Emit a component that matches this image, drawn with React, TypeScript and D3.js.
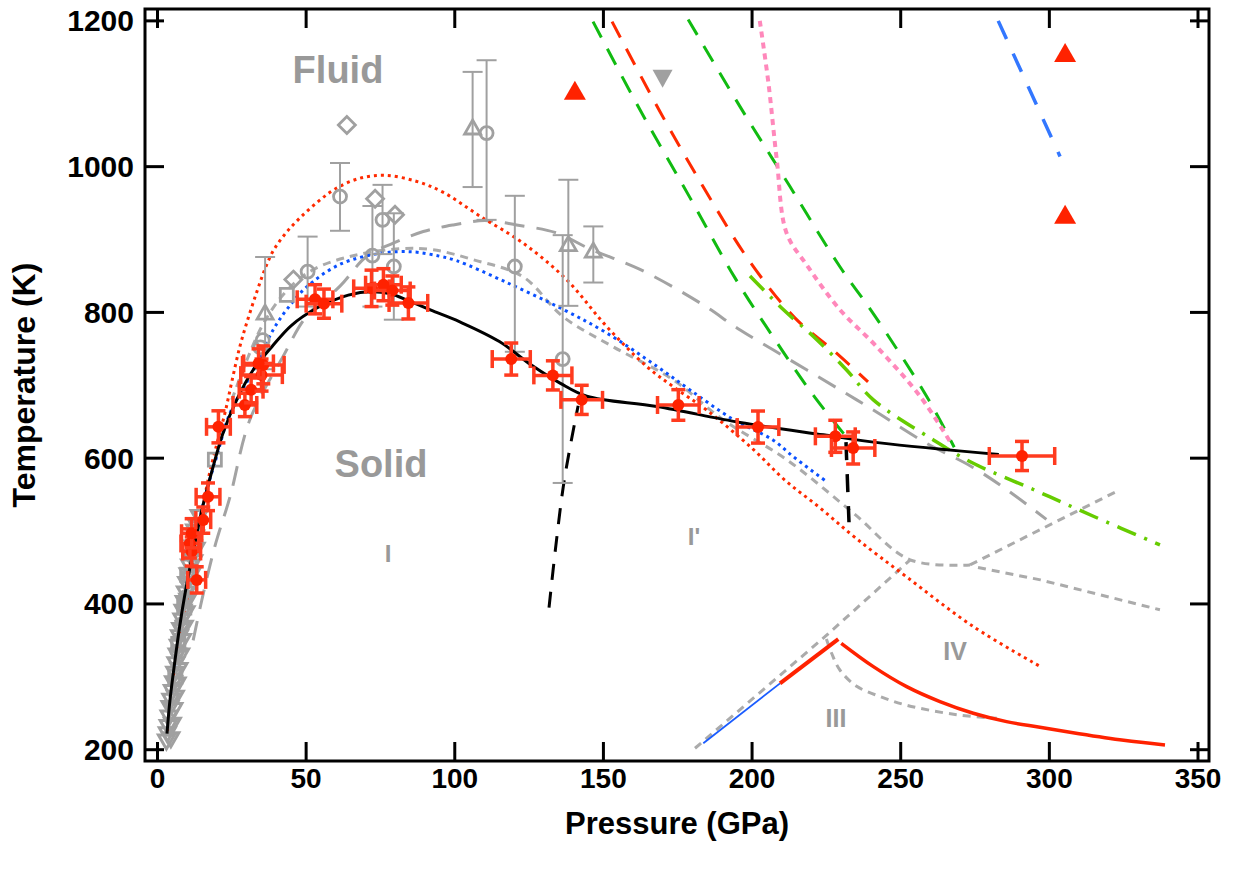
import React from 'react';
import * as d3 from 'd3';

type Pt = [number, number];

const W = 1236;
const H = 876;

const xTicks = [0, 50, 100, 150, 200, 250, 300, 350];
const yTicks = [200, 400, 600, 800, 1000, 1200];

// Black solid melting curve
const meltBlack: Pt[] = [
  [3.2, 222], [4.2, 268], [5.9, 323], [7.5, 370], [9.3, 415], [12, 472], [15, 530], [18.7, 588],
  [22, 634], [27, 683], [32, 720], [38.5, 753], [45, 782], [53.6, 806], [62, 821], [70, 828],
  [78, 826], [85, 815], [92, 803], [101.7, 787], [115, 760], [126, 727], [135.4, 703], [144.4, 685],
  [168, 671], [196, 649], [224, 632], [243, 621], [283, 605],
];

const redDotted: Pt[] = [
  [3.6, 225], [4.2, 268], [5.2, 296], [7, 340], [9.3, 388], [11, 430], [13.2, 479], [15, 525],
  [17, 570], [20, 620], [22.7, 662], [25, 705], [27.7, 753], [30.5, 792], [33.4, 828], [36, 858],
  [39, 885], [43, 908], [48, 930], [54, 952], [60, 970], [68, 984], [76.5, 988], [87, 980], [96, 965],
  [108.5, 932], [123, 895], [137.6, 845], [151, 781], [164.5, 726], [173.5, 698], [184.7, 666],
  [200.4, 612], [211, 570], [222.8, 532], [235, 490], [252, 437], [274.4, 369], [297, 314],
];

const blueDotted: Pt[] = [
  [3.2, 220], [5, 290], [7, 350], [9.8, 425], [13, 495], [16.5, 555], [19.9, 602], [24.4, 662],
  [31.1, 712], [38.9, 776], [43.5, 804], [50.2, 835], [61.4, 866], [74.8, 881], [86, 883], [95, 877],
  [100.6, 871], [117.5, 841], [136.5, 804], [151, 772], [168, 726], [179, 694], [193.7, 653],
  [207, 625], [213.9, 602], [225, 568],
];

const grayShortMain: Pt[] = [
  [25, 680], [35, 780], [43.5, 830], [52.3, 858.6], [65.8, 877.8], [81.6, 887.4], [92.7, 886],
  [106.1, 872.4], [122.9, 849], [136.4, 794.2], [153.2, 753], [173.4, 707.7], [190.2, 652.8],
  [211.7, 597.8], [234, 525], [253.2, 460.5], [273.3, 453.5],
];
const grayShortUp: Pt[] = [[273.3, 453.5], [296.8, 501.7], [323.4, 556]];
const grayShortDown: Pt[] = [[276, 450], [297, 433], [337.2, 392]];
const grayShortRise: Pt[] = [[180.8, 202], [224.5, 355], [253.2, 460.5]];
const grayShortDrop: Pt[] = [
  [225, 352], [226.8, 332], [229.6, 309], [235.2, 287], [243, 273], [252, 261], [268.8, 248], [282.3, 243],
];

const grayLong: Pt[] = [
  [12, 350], [14.9, 405], [19.3, 479], [24.4, 547], [31.1, 653], [42.3, 740], [50.2, 795], [61.4, 836],
  [70.4, 877], [79.3, 895], [89.4, 911], [99.5, 920], [110, 926], [120.8, 920], [134.3, 909],
  [145.5, 887], [162.3, 859], [182.5, 813], [196, 776], [212.7, 735], [229.5, 694], [240.8, 666],
  [258, 622], [274, 588], [285.6, 557], [299, 516],
];

const greenLeft: Pt[] = [
  [146.5, 1199], [162.3, 1078], [179.1, 957.5], [194.2, 847.7], [207.7, 762.6], [221.2, 683], [233.9, 618.4],
];
const greenRight: Pt[] = [
  [178.5, 1202], [196, 1082], [212.7, 973], [229.5, 863], [241, 797], [258.7, 685], [268, 615],
];
const redDashed: Pt[] = [
  [152.9, 1199], [169, 1075.7], [184.2, 968], [199.3, 869.4], [214.4, 792.5], [227.9, 745.9], [239, 704.7],
];
const pinkDotted: Pt[] = [
  [202.6, 1200], [205.5, 1115], [208.3, 1010], [211.6, 909], [218.4, 865], [229.5, 804],
  [241.9, 753], [256.5, 685], [267, 620],
];
const blueDashed: Pt[] = [[282.8, 1200], [303.6, 1014]];
const greenDashDot: Pt[] = [
  [199.3, 850], [210.5, 804], [221.7, 763], [231.8, 721], [240.8, 680], [261, 625], [274.4, 593],
  [294.6, 557], [315, 520], [337.2, 481],
];
const blackDashedA: Pt[] = [[131.7, 395], [134, 480], [136.5, 561], [139, 620], [141.5, 672]];
const blackDashedB: Pt[] = [[231.6, 622], [232.6, 512]];

const blueSolid: Pt[] = [[183.6, 208.8], [209.4, 291]];
const redSolidA: Pt[] = [[209.4, 291], [229, 351.6]];
const redSolidB: Pt[] = [
  [230, 346], [240.8, 314], [252, 286.5], [263.2, 266], [274.4, 250], [285.6, 238.5], [296.8, 230.8],
  [310, 222], [325, 213], [338.9, 206.5],
];

// Red data: P, T, dP, dT
const redPoints: [number, number, number, number][] = [
  [13.2, 433, 3, 18], [11.5, 472, 3, 20], [10.9, 483, 3, 20], [11.5, 497, 3.4, 20], [15.4, 515, 2.5, 18],
  [17, 547, 4, 19], [20.5, 643, 4, 22], [29.4, 673, 4, 16], [31.5, 694, 4, 18], [35, 714, 7, 22],
  [35.6, 728, 7, 26], [34, 730, 5, 20], [53, 818, 6, 20], [56, 812, 6, 20], [72, 833, 6, 25],
  [76, 838, 6, 22], [79, 830, 6, 20], [84.4, 813, 6.5, 22], [119, 736, 6.4, 22], [133, 713.6, 6.4, 20],
  [142.7, 680, 7, 20], [175.2, 673, 7, 21], [202, 642.7, 7, 22], [228, 630, 6.7, 22], [234, 614, 7.3, 22],
  [290.8, 603, 11, 20],
];

const redTriangles: Pt[] = [[140.4, 1104], [305.3, 1156], [305.3, 934]];
const grayFilledDown: Pt[] = [[169.9, 1122]];

// Gray open symbols: type, P, T, lo, hi
const graySymbols: [string, number, number, number | null, number | null][] = [
  ['diamond', 63.7, 1057, null, null],
  ['circle', 61.4, 959, 912, 1005],
  ['diamond', 73.2, 956, null, null],
  ['circle', 75.7, 927, 880, 975],
  ['circle', 72.3, 878, 808, 946],
  ['diamond', 79.9, 934, null, null],
  ['circle', 79.5, 863, 790, 936],
  ['circle', 50.5, 856, 808, 904],
  ['diamond', 45.7, 845, null, null],
  ['square', 43.5, 824, null, null],
  ['triangle', 36.2, 799, 722, 876],
  ['circle', 35.4, 762, null, null],
  ['circle', 34.6, 752, null, null],
  ['square', 19.3, 598, null, null],
  ['triangle', 106, 1053, 972, 1130],
  ['circle', 110.7, 1046, 927, 1146],
  ['circle', 120.2, 863, 746, 960],
  ['triangle', 138.2, 893, 809, 982],
  ['triangle', 146.6, 884, 841, 918],
  ['circle', 136.3, 736, 566, 906],
];

// Dense low-pressure gray data
const grayLowDown: Pt[] = [
  [3.0, 212], [3.3, 222], [3.6, 232], [3.9, 245], [4.2, 258], [4.5, 268], [5.0, 280], [5.4, 292],
  [5.8, 305], [6.2, 318], [6.6, 330], [7.0, 342], [7.4, 355], [7.8, 365], [8.2, 378], [8.6, 390],
  [9.0, 402], [9.4, 415], [9.8, 428], [10.3, 440], [10.8, 452], [11.3, 465], [12, 478], [12.8, 492],
  [13.5, 505], [4.5, 215], [5, 235], [5.5, 255], [6, 272], [6.6, 290], [7.2, 310], [7.8, 330],
  [8.4, 350], [9, 368], [9.6, 388], [10.2, 405], [10.8, 422], [11.5, 440], [12.2, 458], [13, 475],
  [12.5, 500], [14, 520],
];
const grayLowSquare: Pt[] = [[7, 345], [9, 395], [6, 300], [10, 440]];
const grayLowCircle: Pt[] = [[6.5, 335], [8, 372], [9.5, 410], [10.5, 438], [12.5, 480]];

const GRAY = '#a0a0a0';
const RED = '#ff2200';

export default function App() {
  const x = d3.scaleLinear().domain([-4.2, 353.7]).range([145, 1209]);
  const y = d3.scaleLinear().domain([184.5, 1216.3]).range([761, 9]);
  const smooth = d3
    .line<Pt>()
    .x((d) => x(d[0]))
    .y((d) => y(d[1]))
    .curve(d3.curveCatmullRom.alpha(0.5));
  const straight = d3
    .line<Pt>()
    .x((d) => x(d[0]))
    .y((d) => y(d[1]));

  const font = "'Liberation Sans', Arial, sans-serif";

  const symbolPath = (type: string, cx: number, cy: number) => {
    if (type === 'diamond') return `M${cx},${cy - 8.5}L${cx + 8.5},${cy}L${cx},${cy + 8.5}L${cx - 8.5},${cy}Z`;
    if (type === 'square') return `M${cx - 6.5},${cy - 6.5}h13v13h-13Z`;
    if (type === 'triangle') return `M${cx},${cy - 8}L${cx + 8},${cy + 6}L${cx - 8},${cy + 6}Z`;
    if (type === 'down') return `M${cx - 8},${cy - 6}L${cx + 8},${cy - 6}L${cx},${cy + 8}Z`;
    return '';
  };

  const plotL = 145, plotR = 1209, plotT = 9, plotB = 761;

  return (
    <div style={{ position: 'absolute', left: 0, top: 0 }}>
      <svg width={W} height={H} style={{ display: 'block', background: '#fff' }}>
        <defs>
          <clipPath id="plotclip">
            <rect x={plotL} y={plotT} width={plotR - plotL} height={plotB - plotT} />
          </clipPath>
        </defs>
        <rect x={0} y={0} width={W} height={H} fill="#fff" />

        <g clipPath="url(#plotclip)" fill="none">
          <path d={smooth(grayLong) || ''} stroke="#a3a3a3" strokeWidth={3} strokeDasharray="20,12" />
          <path d={smooth(grayShortMain) || ''} stroke="#ababab" strokeWidth={3} strokeDasharray="8,6" />
          <path d={straight(grayShortUp) || ''} stroke="#ababab" strokeWidth={3} strokeDasharray="8,6" />
          <path d={straight(grayShortDown) || ''} stroke="#ababab" strokeWidth={3} strokeDasharray="8,6" />
          <path d={straight(grayShortRise) || ''} stroke="#ababab" strokeWidth={3} strokeDasharray="8,6" />
          <path d={smooth(grayShortDrop) || ''} stroke="#ababab" strokeWidth={3} strokeDasharray="8,6" />

          <path d={smooth(greenLeft) || ''} stroke="#11bb11" strokeWidth={3} strokeDasharray="18,13" />
          <path d={smooth(greenRight) || ''} stroke="#11bb11" strokeWidth={3} strokeDasharray="18,13" />
          <path d={smooth(redDashed) || ''} stroke="#ff2a00" strokeWidth={3} strokeDasharray="18,13" />
          <path d={smooth(pinkDotted) || ''} stroke="#ff88bb" strokeWidth={4} strokeDasharray="6,5" />
          <path d={straight(blueDashed) || ''} stroke="#3377ff" strokeWidth={3.5} strokeDasharray="20,16" />
          <path d={smooth(greenDashDot) || ''} stroke="#66cc00" strokeWidth={3.5} strokeDasharray="20,9,3,9" />

          <path d={smooth(blackDashedA) || ''} stroke="#000" strokeWidth={3} strokeDasharray="16,12" />
          <path d={straight(blackDashedB) || ''} stroke="#000" strokeWidth={3.5} strokeDasharray="18,14" />

          <path d={straight(blueSolid) || ''} stroke="#1a5cff" strokeWidth={1.8} />
          <path d={straight(redSolidA) || ''} stroke={RED} strokeWidth={4} />
          <path d={smooth(redSolidB) || ''} stroke={RED} strokeWidth={3.5} />

          <path d={smooth(redDotted) || ''} stroke="#ff2a00" strokeWidth={3} strokeDasharray="3,4" />
          <path d={smooth(blueDotted) || ''} stroke="#0a50ff" strokeWidth={3} strokeDasharray="3,4" />

          {grayLowDown.map((d, i) => (
            <path key={'gd' + i} d={symbolPath('down', x(d[0]), y(d[1]))} stroke={GRAY} strokeWidth={3} />
          ))}
          {grayLowSquare.map((d, i) => (
            <path key={'gs' + i} d={symbolPath('square', x(d[0]), y(d[1]))} stroke={GRAY} strokeWidth={3} />
          ))}
          {grayLowCircle.map((d, i) => (
            <circle key={'gc' + i} cx={x(d[0])} cy={y(d[1])} r={6} stroke={GRAY} strokeWidth={3} />
          ))}

          {graySymbols.map((s, i) => {
            const [type, P, T, lo, hi] = s;
            const cx = x(P), cy = y(T);
            return (
              <g key={'g' + i} stroke={GRAY}>
                {lo !== null && hi !== null && (
                  <g strokeWidth={2}>
                    <line x1={cx} x2={cx} y1={y(lo)} y2={y(hi)} />
                    <line x1={cx - 10} x2={cx + 10} y1={y(lo)} y2={y(lo)} />
                    <line x1={cx - 10} x2={cx + 10} y1={y(hi)} y2={y(hi)} />
                  </g>
                )}
                {type === 'circle' ? (
                  <circle cx={cx} cy={cy} r={6.5} strokeWidth={2.8} fill="none" />
                ) : (
                  <path d={symbolPath(type, cx, cy)} strokeWidth={2.8} fill="none" />
                )}
              </g>
            );
          })}

          {grayFilledDown.map((d, i) => (
            <path
              key={'gf' + i}
              d={`M${x(d[0]) - 10},${y(d[1]) - 8}L${x(d[0]) + 10},${y(d[1]) - 8}L${x(d[0])},${y(d[1]) + 10}Z`}
              fill={GRAY}
              stroke="none"
            />
          ))}
          {redTriangles.map((d, i) => (
            <path
              key={'rt' + i}
              d={`M${x(d[0])},${y(d[1]) - 10}L${x(d[0]) + 11},${y(d[1]) + 9}L${x(d[0]) - 11},${y(d[1]) + 9}Z`}
              fill={RED}
              stroke="none"
            />
          ))}

          <path d={smooth(meltBlack) || ''} stroke="#000" strokeWidth={3} />

          {redPoints.map((p, i) => {
            const [P, T, dP, dT] = p;
            const cx = x(P), cy = y(T);
            const xl = x(P - dP), xr = x(P + dP);
            const yt = y(T + dT), yb = y(T - dT);
            return (
              <g key={'r' + i} stroke="#ff3b1f" strokeWidth={3.5}>
                <line x1={xl} x2={xr} y1={cy} y2={cy} />
                <line x1={cx} x2={cx} y1={yt} y2={yb} />
                <line x1={xl} x2={xl} y1={cy - 9} y2={cy + 9} />
                <line x1={xr} x2={xr} y1={cy - 9} y2={cy + 9} />
                <line x1={cx - 7} x2={cx + 7} y1={yt} y2={yt} />
                <line x1={cx - 7} x2={cx + 7} y1={yb} y2={yb} />
                <circle cx={cx} cy={cy} r={6} fill={RED} stroke="none" />
              </g>
            );
          })}
        </g>

        <g fontFamily={font} fontWeight="bold" fill="#999" textAnchor="middle">
          <text x={338} y={83} fontSize={38}>Fluid</text>
          <text x={381} y={477} fontSize={38}>Solid</text>
          <text x={388} y={562} fontSize={24}>I</text>
          <text x={694} y={545} fontSize={24}>I'</text>
          <text x={955} y={660} fontSize={25}>IV</text>
          <text x={836} y={727} fontSize={25}>III</text>
        </g>

        <rect x={plotL} y={plotT} width={plotR - plotL} height={plotB - plotT} fill="none" stroke="#000" strokeWidth={3} />

        <g stroke="#000" strokeWidth={3}>
          {xTicks.map((t) => (
            <g key={'xt' + t}>
              <line x1={x(t)} x2={x(t)} y1={plotB} y2={plotB - 19} />
              <line x1={x(t)} x2={x(t)} y1={plotT} y2={plotT + 19} />
            </g>
          ))}
          {yTicks.map((t) => (
            <g key={'yt' + t}>
              <line x1={plotL} x2={plotL + 19} y1={y(t)} y2={y(t)} />
              <line x1={plotR} x2={plotR - 19} y1={y(t)} y2={y(t)} />
            </g>
          ))}
        </g>

        <g fontFamily={font} fontWeight="bold" fill="#000">
          {xTicks.map((t) => (
            <text key={'xl' + t} x={x(t)} y={788} textAnchor="middle" fontSize={28}>{t}</text>
          ))}
          {yTicks.map((t) => (
            <text key={'yl' + t} x={134} y={y(t) + 10.5} textAnchor="end" fontSize={30}>{t}</text>
          ))}
        </g>

        <text x={(plotL + plotR) / 2} y={834} textAnchor="middle" fontFamily={font} fontWeight="bold" fontSize={31}>
          Pressure (GPa)
        </text>
        <text
          transform={`translate(35,${(plotT + plotB) / 2}) rotate(-90)`}
          textAnchor="middle"
          fontFamily={font}
          fontWeight="bold"
          fontSize={32}
        >
          Temperature (K)
        </text>
      </svg>
    </div>
  );
}
